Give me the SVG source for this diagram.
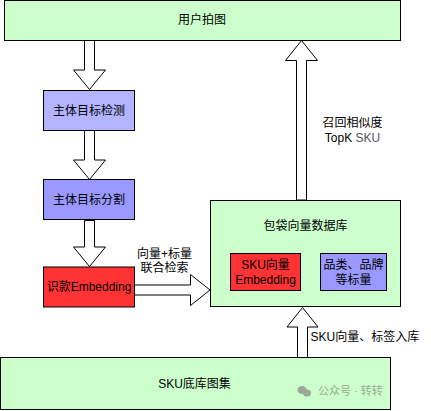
<svg xmlns="http://www.w3.org/2000/svg" width="431" height="411" viewBox="0 0 431 411">
<style>
  .box { stroke: #000; stroke-width: 1; }
  .green { fill: #CCFFCC; }
  .blue { fill: #9999FF; }
  .lblue { fill: #B3B3FF; }
  .red { fill: #FF3333; }
  .arrow { fill: #fff; stroke: #000; stroke-width: 1; stroke-linejoin: miter; }
  text { font-family: "Liberation Sans", "Noto Sans CJK SC", sans-serif; font-size: 12px; fill: #000; text-anchor: middle; dominant-baseline: central; }
  .lbl { text-anchor: middle; }
  .wm { fill: #8a9a8a; font-size: 11px; text-anchor: start; opacity: 0.8; }
</style>
<rect width="431" height="411" fill="#fff"/>
<g id="connectors">
  <path class="arrow" d="M84.5,40.5 V70 H73.5 L89.5,89.5 L105.5,70 H94.5 V40.5 Z"/>
  <path class="arrow" d="M84.5,130.5 V160 H73.5 L89.5,179.5 L105.5,160 H94.5 V130.5 Z"/>
  <path class="arrow" d="M84.5,220.5 V247 H73.5 L89.5,266.5 L105.5,247 H94.5 V220.5 Z"/>
  <path class="arrow" d="M134.5,285 H190.5 V274.5 L210,290 L190.5,305.5 V295 H134.5 Z"/>
  <path class="arrow" d="M296.5,200 V60.5 H285.5 L301.5,40.5 L317.5,60.5 H306.5 V200 Z"/>
  <path class="arrow" d="M297.5,357.5 V327 H287 L302.5,307.5 L318,327 H307.5 V357.5 Z"/>
  <text x="164.5" y="253.5">向量+标量</text>
  <text x="164.5" y="268">联合检索</text>
  <text x="352.5" y="122.5">召回相似度</text>
  <text x="352.5" y="138">TopK <tspan fill="#555">SKU</tspan></text>
  <text x="310.5" y="337" style="text-anchor:start">SKU向量、标签入库</text>
</g>
<g id="node-user">
  <rect class="box green" x="4.5" y="0.5" width="396" height="40"/>
  <text x="202" y="20">用户拍图</text>
</g>
<g id="node-detect">
  <rect class="box lblue" x="43.5" y="90.5" width="91" height="40"/>
  <text x="89" y="110.5">主体目标检测</text>
</g>
<g id="node-segment">
  <rect class="box blue" x="43.5" y="179.5" width="91" height="40"/>
  <text x="89" y="199.5">主体目标分割</text>
</g>
<g id="node-embedding">
  <rect class="box red" x="43.5" y="267" width="91" height="40"/>
  <text x="89" y="287">识款Embedding</text>
</g>
<g id="node-db">
  <rect class="box green" x="210.5" y="200.5" width="190" height="106"/>
  <text x="305.5" y="226">包袋向量数据库</text>
  <g id="node-sku-embedding">
    <rect class="box red" x="230.5" y="253.5" width="70" height="37"/>
    <text x="265.5" y="264.5">SKU向量</text>
    <text x="265.5" y="280">Embedding</text>
  </g>
  <g id="node-labels">
    <rect class="box blue" x="320.5" y="253.5" width="66" height="37"/>
    <text x="353.5" y="264.5">品类、品牌</text>
    <text x="353.5" y="280">等标量</text>
  </g>
</g>
<g id="node-sku-base">
  <rect class="box green" x="0.5" y="357.5" width="390" height="52"/>
  <text x="194.5" y="384">SKU底库图集</text>
</g>
<g id="watermark">
  <ellipse cx="302" cy="390" rx="4.5" ry="4" fill="#9aa89a"/>
  <ellipse cx="307" cy="393" rx="4" ry="3.5" fill="#9aa89a"/>
  <text class="wm" x="318" y="391">公众号 · 转转</text>
</g>
</svg>
